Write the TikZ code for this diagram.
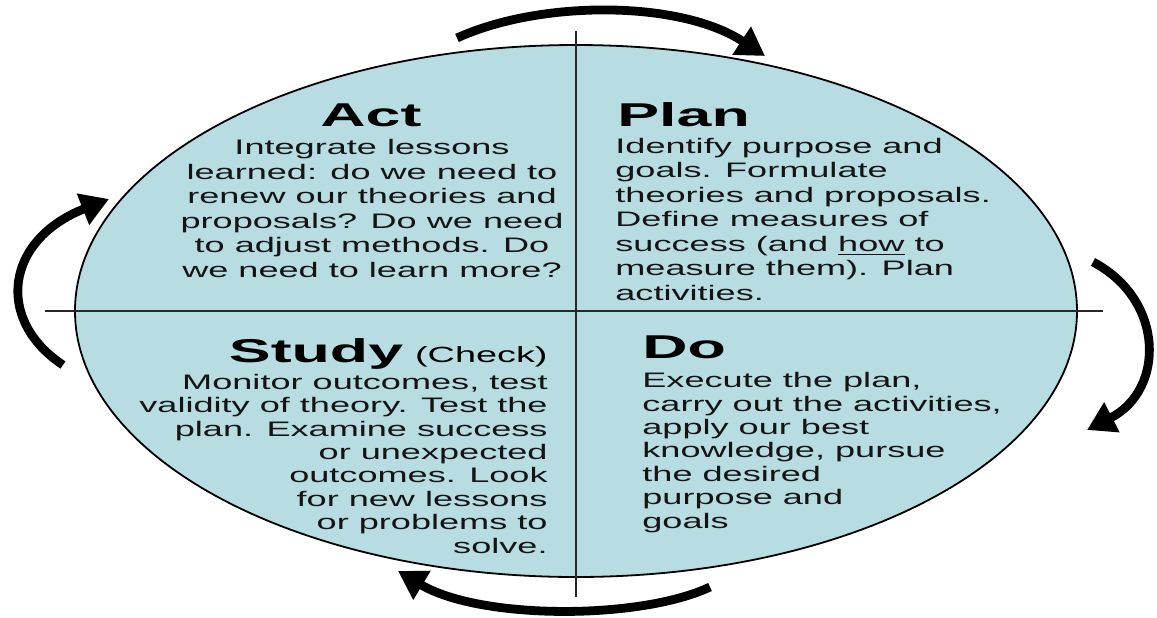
\documentclass[tikz,border=0pt]{standalone}
\usepackage{fontspec}
\setmainfont{Liberation Sans}
\newfontfamily\bodyf[FakeStretch=1.72]{Liberation Sans}
\newfontfamily\titlef[FakeStretch=1.9]{Liberation Sans}
\usetikzlibrary{arrows.meta}
\definecolor{quadfill}{RGB}{183,221,227}
\definecolor{txtc}{RGB}{20,20,20}
\tikzset{
  cycarrow/.style={line width=4.4pt, draw=black, -{Triangle[length=14pt,width=16pt]}},
  crossline/.style={line width=1.1pt, draw=black!85},
  titletxt/.style={inner sep=0pt, font=\titlef\bfseries\fontsize{16.5}{18}\selectfont, text=black},
  bodytop/.style={inner sep=0pt, font=\bodyf\fontsize{10.5}{12.25}\selectfont, text=txtc},
  bodybot/.style={inner sep=0pt, font=\bodyf\fontsize{10.5}{11.7}\selectfont, text=txtc}
}
\begin{document}
\begin{tikzpicture}[x=0.5pt,y=-0.5pt]
\useasboundingbox (0,0) rectangle (1157,617);
\fill[white] (0,0) rectangle (1157,617);
% circle
\draw[fill=quadfill, line width=0.9pt, draw=black] (576,311) ellipse [x radius=501, y radius=266];
\coordinate (vt) at (576,31);
\coordinate (vb) at (576,597);
\coordinate (hl) at (45,311);
\coordinate (hr) at (1103,311);
\draw[crossline] (vt) -- (vb);
\draw[crossline] (hl) -- (hr);
% arrows
\coordinate (a1s) at (457,38);  \coordinate (a1e) at (765,56);
\coordinate (a2s) at (1093,262); \coordinate (a2e) at (1087,430);
\coordinate (a3s) at (710,587); \coordinate (a3e) at (398,571);
\coordinate (a4s) at (63,365);  \coordinate (a4e) at (109,199);
\draw[cycarrow] (a1s) .. controls (540,0) and (680,0) .. (a1e);
\draw[cycarrow] (a2s) .. controls (1165,300) and (1165,390) .. (a2e);
\draw[cycarrow] (a3s) .. controls (640,620) and (480,620) .. (a3e);
\draw[cycarrow] (a4s) .. controls (-5,320) and (5,240) .. (a4e);
% titles
\node[titletxt, anchor=base west] (actT) at (320,126) {Act};
\node[titletxt, anchor=base west] (planT) at (617,126) {Plan};
\node[titletxt, anchor=base east] (studyT) at (548,362) {Study\hspace{6pt}{\bodyf\mdseries\fontsize{11}{12}\selectfont(Check)}};
\node[titletxt, anchor=base west] (doT) at (642,358) {Do};
% bodies (base anchor = baseline of the last line)
\node[bodytop, anchor=base, align=center] (actB) at (372,277) {Integrate lessons\\learned: do we need to\\renew our theories and\\proposals? Do we need\\to adjust methods. Do\\we need to learn more?};
\node[bodytop, anchor=base west, align=left] (planB) at (615,300) {Identify purpose and\\goals. Formulate\\theories and proposals.\\Define measures of\\success (and \underline{how} to\\measure them). Plan\\activities.};
\node[bodybot, anchor=base east, align=right] (studyB) at (548,553) {Monitor outcomes, test\\validity of theory. Test the\\plan. Examine success\\or unexpected\\outcomes. Look\\for new lessons\\or problems to\\solve.};
\node[bodybot, anchor=base west, align=left] (doB) at (642,528) {Execute the plan,\\carry out the activities,\\apply our best\\knowledge, pursue\\the desired\\purpose and\\goals};
\end{tikzpicture}
\end{document}
